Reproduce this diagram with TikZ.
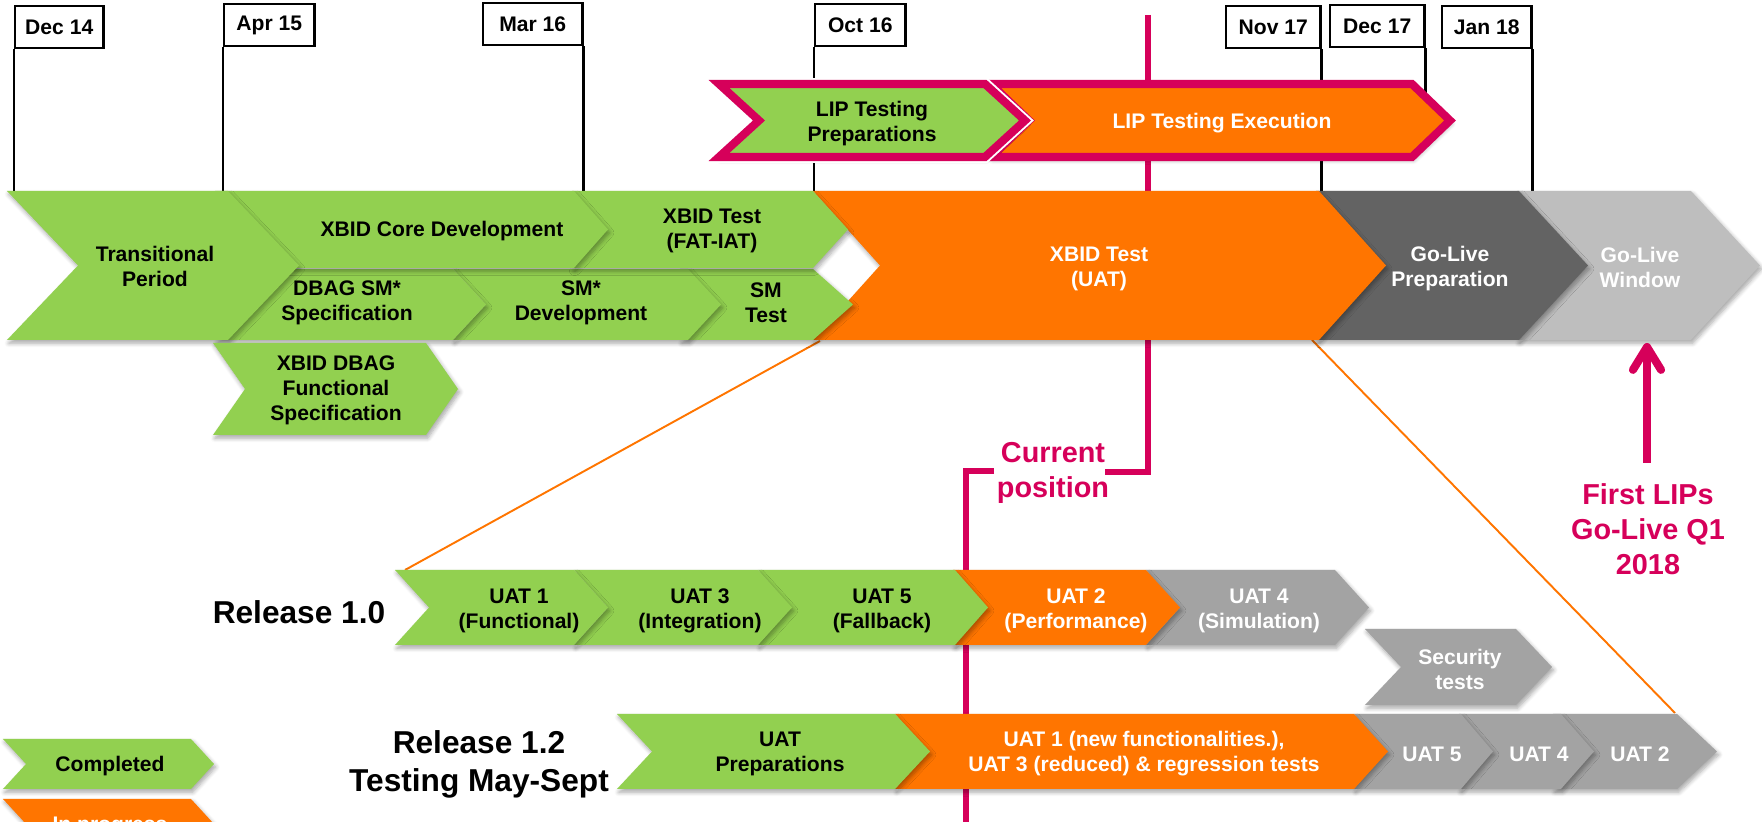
\documentclass[tikz,border=0pt]{standalone}
\usepackage{fontspec}
\setmainfont{Liberation Sans}
\usetikzlibrary{arrows.meta,shadows.blur}
\definecolor{cgreen}{RGB}{146,208,80}
\definecolor{corange}{RGB}{255,117,0}
\definecolor{cdark}{RGB}{99,99,99}
\definecolor{clight}{RGB}{190,190,190}
\definecolor{cgray}{RGB}{163,163,163}
\definecolor{cmag}{RGB}{214,0,90}
% chevron: style, x left, x right, y top, y bottom, tip depth
\newcommand{\chev}[6]{\path[#1] (#2,#4) -- (#3,#4) -- ++(#6,{(#5-#4)/2}) -- (#3,#5) -- (#2,#5) -- ++(#6,{(#4-#5)/2}) -- cycle;}
\tikzset{
  chevshadow/.style={blur shadow={shadow xshift=0.5pt,shadow yshift=-0.9pt,shadow blur radius=1.2pt,shadow blur steps=6,shadow opacity=35}},
  txt/.style={align=center,inner sep=0pt,font=\fontsize{6}{7.1}\selectfont\bfseries},
  wtxt/.style={txt,text=white},
  bigtxt/.style={align=center,inner sep=0pt,font=\fontsize{9}{10.8}\selectfont\bfseries},
  magtxt/.style={align=center,inner sep=0pt,text=cmag,font=\fontsize{8.2}{9.9}\selectfont\bfseries},
  datebox/.style={draw,line width=0.7pt,fill=white,anchor=north west,minimum height=0.42cm,inner sep=0pt,font=\fontsize{6}{7}\selectfont\bfseries},
  tick/.style={line width=0.6pt},
  magline/.style={cmag,line width=1.5pt},
  zoomline/.style={corange,line width=0.55pt},
  lipbox/.style={draw=cmag,line width=2.3pt,miter limit=4,chevshadow}
}
\begin{document}
\begin{tikzpicture}[x=0.01cm,y=-0.01cm,line join=miter]
    \useasboundingbox (0,0) rectangle (1762,822);
    \clip (0,0) rectangle (1762,822);
    % dates on top
    \node[datebox,minimum width=0.88cm] (d14) at (14,5) {Dec 14};
    \node[datebox,minimum width=0.9cm] (a15) at (223,3) {Apr 15};
    \node[datebox,minimum width=0.99cm] (m16) at (482,2) {Mar 16};
    \node[datebox,minimum width=0.9cm] (o16) at (814,3) {Oct 16};
    \node[datebox,minimum width=0.94cm] (n17) at (1225,5) {Nov 17};
    \node[datebox,minimum width=0.94cm] (dc17) at (1329,4) {Dec 17};
    \node[datebox,minimum width=0.89cm] (j18) at (1441,5) {Jan 18};
    \coordinate (bartop) at (0,191);
    \coordinate (liptop) at (0,100);
    \draw[tick] (d14.south west) -- (d14.south west |- bartop);
    \draw[tick] (a15.south west) -- (a15.south west |- bartop);
    \draw[tick] (m16.south east) -- (m16.south east |- bartop);
    \draw[tick] (o16.south west) -- (o16.south west |- bartop);
    \draw[tick] (n17.south east) -- (n17.south east |- bartop);
    \draw[tick] (dc17.south east) -- (dc17.south east |- liptop);
    \draw[tick] (j18.south east) -- (j18.south east |- bartop);
    % current position
    \coordinate (cptop) at (1148,15);
    \coordinate (cpknee) at (1148,472);
    \coordinate (cpend) at (1105,472);
    \coordinate (cpstart) at (994,471);
    \coordinate (cpcorner) at (966,471);
    \coordinate (cpfoot) at (966,830);
    \draw[magline] (cptop) -- (cpknee) -- (cpend);
    \draw[magline] (cpstart) -- (cpcorner) -- (cpfoot);
    \node[magtxt] (curpos) at (1053,473) {Current\\position};
    % zoom lines
    \coordinate (uatsw) at (820,341);
    \coordinate (uatse) at (1312,340);
    \coordinate (relanw) at (405,570);
    \coordinate (relbne) at (1675,713);
    \draw[zoomline] (uatsw) -- (relanw);
    \draw[zoomline] (uatse) -- (relbne);
    % LIP testing
    \chev{fill=corange,lipbox}{991}{1412}{84}{157}{38}
    \chev{fill=cgreen,lipbox,preaction={draw=white,line width=3.4pt}}{719}{985}{84}{157}{40}
    \node[txt] (lipprep) at (872,124) {LIP Testing\\Preparations};
    \node[wtxt] (lipexec) at (1222,123) {LIP Testing Execution};
    % main bar
    \chev{fill=clight,chevshadow}{1517}{1691}{191}{340}{69}
    \chev{fill=cdark,chevshadow}{1316}{1519}{191}{340}{69}
    \chev{fill=corange,chevshadow}{813}{1319}{191}{340}{67}
    \chev{fill=cgreen,chevshadow}{680}{813}{269}{340}{40}
    \chev{fill=cgreen,chevshadow}{453}{688}{269}{340}{33}
    \chev{fill=cgreen,chevshadow}{215}{453}{269}{340}{33}
    \chev{fill=cgreen,chevshadow}{572}{813}{191}{268}{35}
    \chev{fill=cgreen,chevshadow}{215}{574}{191}{268}{34}
    \chev{fill=cgreen,chevshadow}{7}{228}{191}{340}{71}
    \chev{fill=cgreen,chevshadow}{213}{426}{343}{435}{32}
    \node[txt] (trans) at (155,266) {Transitional\\Period};
    \node[txt] (coredev) at (442,231) {XBID Core Development};
    \node[txt] (fatiat) at (712,231) {XBID Test\\(FAT-IAT)};
    \node[txt] (dbagsm) at (347,303) {DBAG SM*\\Specification};
    \node[txt] (smdev) at (581,303) {SM*\\Development};
    \node[txt] (smtest) at (766,303) {SM\\Test};
    \node[wtxt] (uattest) at (1099,269) {XBID Test\\(UAT)};
    \node[wtxt] (goprep) at (1450,269) {Go-Live\\Preparation};
    \node[wtxt] (gowin) at (1640,267) {Go-Live\\Window};
    \node[txt] (funcspec) at (336,390) {XBID DBAG\\Functional\\Specification};
    % release 1.0
    \node[bigtxt] (rel10) at (299,612) {Release 1.0};
    \chev{fill=cgray,chevshadow}{1146}{1335}{570}{645}{34}
    \chev{fill=corange,chevshadow}{953}{1146}{570}{645}{34}
    \chev{fill=cgreen,chevshadow}{758}{955}{570}{645}{33}
    \chev{fill=cgreen,chevshadow}{574}{758}{570}{645}{34}
    \chev{fill=cgreen,chevshadow}{395}{574}{570}{645}{34}
    \node[txt] (uat1) at (519,611) {UAT 1\\(Functional)};
    \node[txt] (uat3) at (700,611) {UAT 3\\(Integration)};
    \node[txt] (uat5) at (882,611) {UAT 5\\(Fallback)};
    \node[wtxt] (uat2) at (1076,611) {UAT 2\\(Performance)};
    \node[wtxt] (uat4) at (1259,611) {UAT 4\\(Simulation)};
    \chev{fill=cgray,chevshadow}{1365}{1516}{629}{705}{36}
    \node[wtxt] (sectest) at (1460,669) {Security\\tests};
    % release 1.2
    \node[bigtxt] (rel12) at (479,764) {Release 1.2\\Testing May-Sept};
    \chev{fill=cgray,chevshadow}{1553}{1677}{714}{789}{40}
    \chev{fill=cgray,chevshadow}{1459}{1561}{714}{789}{33}
    \chev{fill=cgray,chevshadow}{1354}{1461}{714}{789}{32}
    \chev{fill=corange,chevshadow}{895}{1354}{714}{789}{34}
    \chev{fill=cgreen,chevshadow}{617}{895}{714}{789}{35}
    \node[txt] (uatprep) at (780,754) {UAT\\Preparations};
    \node[wtxt] (uatnew) at (1144,754) {UAT 1 (new functionalities.),\\UAT 3 (reduced) \& regression tests};
    \node[wtxt] (uat5b) at (1432,754) {UAT 5};
    \node[wtxt] (uat4b) at (1539,754) {UAT 4};
    \node[wtxt] (uat2b) at (1640,754) {UAT 2};
    % legend
    \chev{fill=cgreen,chevshadow}{3}{191}{739}{789}{23}
    \chev{fill=corange,chevshadow}{3}{191}{799}{849}{23}
    \node[txt] (legdone) at (110,766) {Completed};
    \node[wtxt] (legprog) at (110,826) {In progress};
    % go-live
    \coordinate (lipfoot) at (1647,463);
    \coordinate (liphead) at (1647,343);
    \draw[cmag,line width=2.3pt,-{Straight Barb[round,length=6.5pt,width=8pt]}] (lipfoot) -- (liphead);
    \node[magtxt] (firstlip) at (1648,529) {First LIPs\\Go-Live Q1\\2018};
\end{tikzpicture}
\end{document}
